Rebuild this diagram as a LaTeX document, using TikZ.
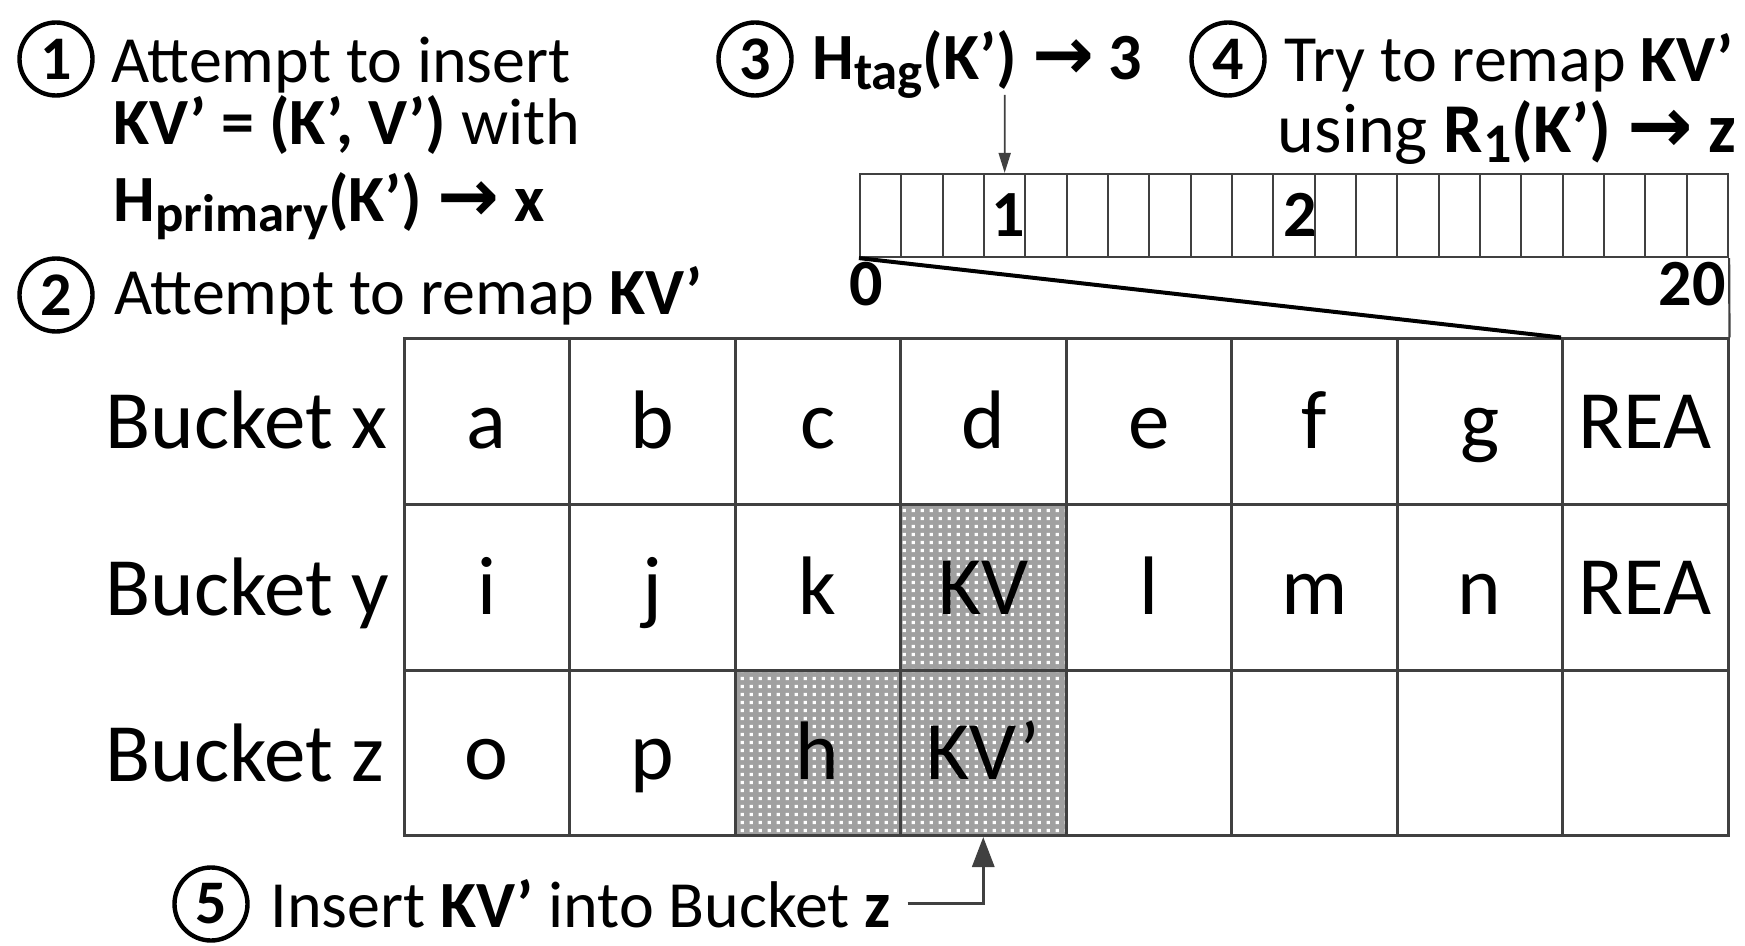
\documentclass[tikz,border=0pt]{standalone}
\usepackage{fontspec}
\setmainfont{Carlito}
\newfontfamily\arrfont{DejaVu Sans}
\usetikzlibrary{arrows.meta,patterns}
\definecolor{ln}{HTML}{404040}
\definecolor{shade}{HTML}{A0A0A0}
\pgfdeclarepatternformonly{whitedots}{\pgfqpoint{0pt}{0pt}}{\pgfqpoint{4.5pt}{4pt}}{\pgfqpoint{4.5pt}{4pt}}{%
  \pgfpathrectangle{\pgfqpoint{1.4pt}{1.1pt}}{\pgfqpoint{1.8pt}{1.8pt}}\pgfusepath{fill}}
\newcommand\mysub[1]{\raisebox{-0.14em}{\fontsize{0.8em}{0.8em}\selectfont #1}}
\newcommand\myarr{{\arrfont\bfseries\scalebox{1.12}{\symbol{"2192}}}}
\begin{document}
\begin{tikzpicture}[x=0.5pt,y=-0.5pt,
  big/.style={font=\fontsize{41.5}{48}\selectfont, inner sep=0pt},
  txt/.style={font=\fontsize{33}{38}\selectfont, inner sep=0pt, anchor=base west},
  num/.style={circle, draw=black, line width=2.2pt, minimum size=36.5pt, inner sep=0pt, font=\fontsize{31}{31}\selectfont\bfseries},
  cellnode/.style={draw=ln, line width=1.5pt, minimum width=82.75pt, minimum height=82.75pt, inner sep=0pt, text height=30pt, text depth=3pt, font=\fontsize{41.5}{48}\selectfont},
  plain/.style={},
  shaded/.style={preaction={fill=shade}, pattern=whitedots, pattern color=white},
  barcell/.style={draw=ln, line width=1.1pt, minimum width=20.667pt, minimum height=41.5pt, inner sep=0pt},
  bnum/.style={font=\fontsize{33}{38}\selectfont\bfseries, inner sep=0pt, anchor=base},
]
\fill[white] (0,0) rectangle (1745,946);
\useasboundingbox (0,0) rectangle (1745,946);

% top-left texts
\node[num] (n1) at (56,59) {1};
\node[txt] (t1a) at (111,83) {Attempt to insert};
\node[txt] (t1b) at (113,145) {\textbf{KV’ = (K’, V’)} with};
\node[txt] (t1c) at (113,222) {\textbf{H\mysub{primary}(K’) \myarr{} x}};
\node[num] (n2) at (56,295) {2};
\node[txt] (t2) at (114,315) {Attempt to remap \textbf{KV’}};

% top-middle/right texts
\node[num] (n3) at (755,59) {3};
\node[txt] (t3) at (812,80) {\textbf{H\mysub{tag}(K’) \myarr{} 3}};
\node[num] (n4) at (1228,59) {4};
\node[txt] (t4a) at (1284,82) {Try to remap \textbf{KV’}};
\node[txt, font=\fontsize{35}{40}\selectfont, anchor=base east] (t4b) at (1737,153) {using \textbf{R\mysub{1}(K’) \myarr{} z}};

% small bar
\foreach \k in {0,...,20}
  \node[barcell] (b\k) at ({860+41.333*(\k+0.5)},215.5) {};
\node[bnum] (d1) at (1008,237) {1};
\node[bnum] (d2) at (1300,237) {2};
\node[bnum] (l0) at (866,306) {0};
\node[bnum, anchor=base east] (l20) at (1726,306) {20};

% grid
\foreach \t/\s [count=\j] in {a/plain,b/plain,c/plain,d/plain,e/plain,f/plain,g/plain,REA/plain}
  \node[cellnode,\s] (x\j) at ({404+165.5*(\j-0.5)},421.75) {\t};
\foreach \t/\s [count=\j] in {i/plain,j/plain,k/plain,KV/shaded,l/plain,m/plain,n/plain,REA/plain}
  \node[cellnode,\s] (y\j) at ({404+165.5*(\j-0.5)},587.25) {\t};
\foreach \t/\s [count=\j] in {o/plain,p/plain,h/shaded,KV’/shaded,{}/plain,{}/plain,{}/plain,{}/plain}
  \node[cellnode,\s] (z\j) at ({404+165.5*(\j-0.5)},752.75) {\t};

\node[big, anchor=base west] (bx) at (105,449) {Bucket x};
\node[big, anchor=base west] (by) at (105,615) {Bucket y};
\node[big, anchor=base west] (bz) at (105,781) {Bucket z};

% zoom lines
\draw[black, line width=2pt] (b0.south west) -- (x8.north west);
\draw[ln, line width=1.1pt] (b20.south east) -- (x8.north east);

% arrow from step 3
\coordinate (a3s) at (1004.7,95);
\draw[ln, line width=0.9pt, -{Triangle[length=10pt,width=6pt]}] (a3s) -- (b3.north);

% step 5
\node[num] (n5) at (211,904) {5};
\node[txt] (t5) at (270,927) {Insert \textbf{KV’} into Bucket \textbf{z}};
\draw[ln, line width=1.6pt, -{Triangle[length=15pt,width=11pt]}] ([xshift=8pt]t5.east) -| (z4.south);
\end{tikzpicture}
\end{document}
